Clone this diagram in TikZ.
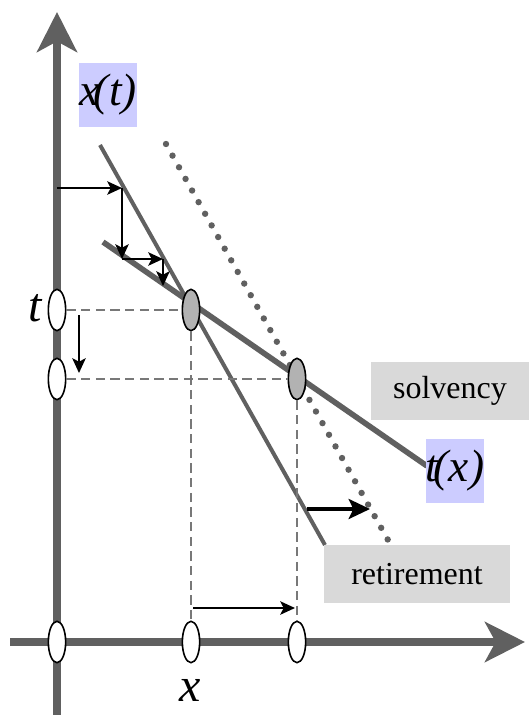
\documentclass[tikz,border=0pt]{standalone}
\usepackage{fontspec}
\setmainfont{Liberation Serif}[ItalicFont={Liberation Serif Italic}]
\usetikzlibrary{arrows.meta,shapes.geometric}
\definecolor{axisgray}{RGB}{96,96,96}
\definecolor{boxgray}{RGB}{217,217,217}
\definecolor{labblue}{RGB}{204,204,255}

\begin{document}
\begin{tikzpicture}[x=0.75pt,y=-0.75pt]
  \tikzstyle{axis}=[axisgray,line width=6pt,-{Stealth[length=30pt,width=30pt,inset=8pt]}]
  \tikzstyle{mark0}=[ellipse,draw=black,line width=1.2pt,fill=white,minimum width=13pt,minimum height=31pt,inner sep=0pt]
  \tikzstyle{markg}=[mark0,fill=black!30]
  \tikzstyle{guide}=[axisgray!85,line width=1.5pt,dash pattern=on 7pt off 4pt]
  \tikzstyle{steparrow}=[black,line width=1.6pt,-{Stealth[length=11pt,width=10pt,inset=2.5pt]}]
  \tikzstyle{tag}=[fill=boxgray,font=\fontsize{24}{28}\selectfont,inner sep=0pt,minimum height=44pt]
  \tikzstyle{fun}=[fill=labblue,font=\fontsize{34}{38}\selectfont\itshape,inner sep=0pt,minimum height=48pt]
  \useasboundingbox (0,0) rectangle (529,715);
  % Axes
  \draw[axis] (57,715) -- (57,12);
  \draw[axis] (10,642) -- (525,642);
  % Curves: x(t), t(x) and the shifted retirement line
  \coordinate (xt0) at (100,145);
  \coordinate (xt1) at (325,545);
  \coordinate (tx0) at (103,242);
  \coordinate (tx1) at (427,466);
  \coordinate (dt0) at (166,144);
  \coordinate (dt1) at (388,540);
  \draw[axisgray,line width=3pt] (xt0) -- (xt1);
  \draw[axisgray,line width=4.2pt] (tx0) -- (tx1);
  \draw[axisgray,line width=4.8pt,line cap=round,dash pattern=on 0pt off 10pt] (dt0) -- (dt1);
  % Markers on the axes and the two fixed points
  \node[mark0] (ot) at (57,642) {};
  \node[mark0] (t0) at (57,310) {};
  \node[mark0] (t1) at (57,379) {};
  \node[mark0] (x0) at (191,642) {};
  \node[mark0] (x1) at (297,642) {};
  \node[markg] (p0) at (191,310) {};
  \node[markg] (p1) at (297,379) {};
  % Dashed guides
  \draw[guide] (t0.east) -- (p0.west);
  \draw[guide] (t1.east) -- (p1.west);
  \draw[guide] (p0.south) -- (x0.north);
  \draw[guide] (p1.south) -- (x1.north);
  % Iteration steps
  \coordinate (s0) at (57,188);
  \coordinate (s1) at (122,188);
  \coordinate (s2) at (122,259);
  \coordinate (s3) at (163,259);
  \coordinate (s4) at (163,286);
  \draw[steparrow] (s0) -- (s1);
  \draw[steparrow] (s1) -- (s2);
  \draw[steparrow] (s2) -- (s3);
  \draw[steparrow] (s3) -- (s4);
  \coordinate (d0) at (79,315);
  \coordinate (d1) at (79,373);
  \draw[steparrow] (d0) -- (d1);
  \coordinate (h0) at (193,608);
  \coordinate (h1) at (295,608);
  \draw[steparrow] (h0) -- (h1);
  \coordinate (r0) at (307,509);
  \coordinate (r1) at (370,509);
  \draw[black,line width=2.6pt,-{Stealth[length=16pt,width=15pt,inset=3.5pt]}] (r0) -- (r1);
  % Labels
  \node[fun,minimum width=37pt] (labxt) at (108,95) {x\kern-0.12em(t)};
  \node[fun,minimum width=37pt] (labtx) at (455,471) {t\kern-0.1em(x)};
  \node[tag,minimum width=118pt] (solv) at (450,391) {solvency};
  \node[tag,minimum width=139pt] (ret) at (417,574) {retirement};
  \node[font=\fontsize{36}{40}\selectfont\itshape] (labt) at (35,308) {t};
  \node[font=\fontsize{36}{40}\selectfont\itshape] (labx) at (190,690) {x};
\end{tikzpicture}
\end{document}
